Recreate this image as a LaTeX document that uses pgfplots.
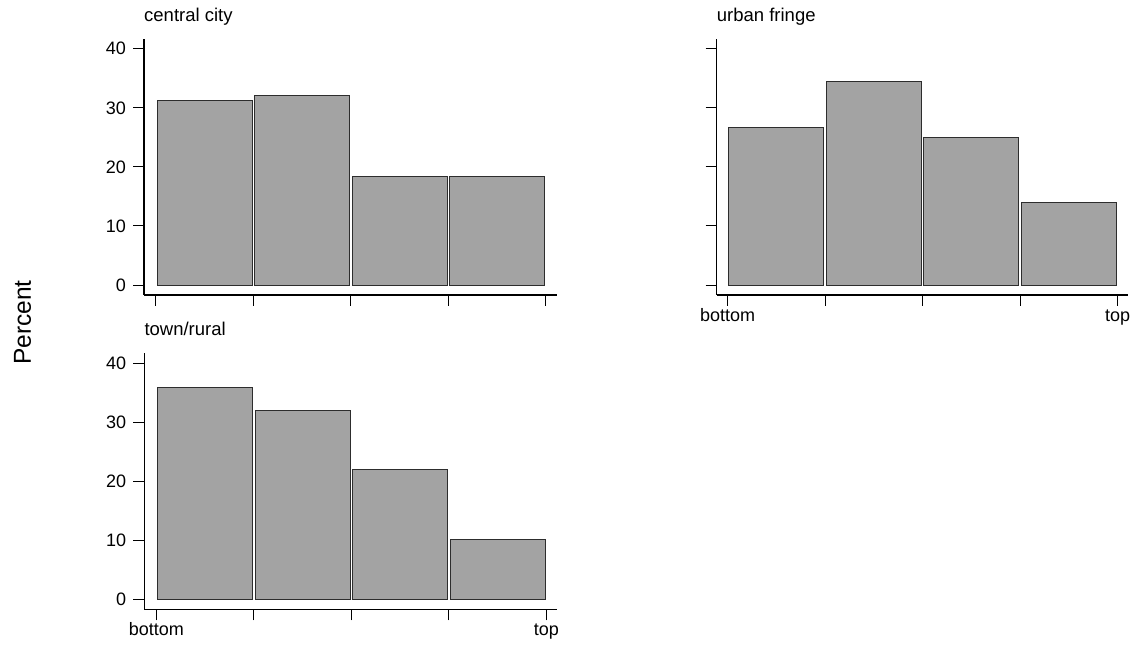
\documentclass[border=0pt]{standalone}
\usepackage{fontspec}
\setmainfont{Liberation Sans}
\usepackage{pgfplots}
\pgfplotsset{compat=1.18}

\definecolor{barfill}{RGB}{163,163,163}
\definecolor{baredge}{RGB}{45,45,45}

\pgfplotsset{
  histpanel/.style={
    scale only axis,
    ybar,
    bar width=0.975,
    axis lines=left,
    axis line style={-, black, line width=1.1pt},
    tick align=outside,
    major tick length=11pt,
    tick style={black, line width=1pt},
    xtick={0,1,2,3,4},
    ytick={0,10,20,30,40},
    ymin=-1.69, ymax=41.66,
    height=256pt,
    /pgf/number format/assume math mode=true,
    tick label style={font=\fontsize{18}{20}\selectfont},
    yticklabel style={inner sep=0pt, xshift=-7pt},
    xticklabel style={inner sep=0pt, anchor=base, yshift=-15pt},
    every axis title shift=0pt,
    title style={at={(rel axis cs:0,1)}, anchor=base west, inner sep=0pt,
      yshift=17.5pt, font=\fontsize{18.5}{20}\selectfont},
  },
  histbars/.style={fill=barfill, draw=baredge, line width=1pt},
}

\begin{document}
\begin{tikzpicture}[x=1pt, y=1pt]
  \path (0,0) rectangle (1135,646);

  % central city
  \begin{axis}[histpanel, at={(144pt,351pt)}, anchor=south west,
      width=413pt, xmin=-0.123, xmax=4.113,
      xticklabels={}, title={central city}]
    \addplot[histbars] coordinates {(0.5,31.3) (1.5,32.1) (2.5,18.3) (3.5,18.3)};
  \end{axis}

  % urban fringe
  \begin{axis}[histpanel, at={(716.7pt,351pt)}, anchor=south west,
      width=411.3pt, xmin=-0.113, xmax=4.106,
      xticklabels={bottom,,,,top}, yticklabels={}, title={urban fringe}]
    \addplot[histbars] coordinates {(0.5,26.6) (1.5,34.5) (2.5,25.0) (3.5,14.0)};
  \end{axis}

  % town/rural
  \begin{axis}[histpanel, at={(144.3pt,36.7pt)}, anchor=south west,
      width=413pt, xmin=-0.123, xmax=4.113,
      xticklabels={bottom,,,,top}, title={town/rural}]
    \addplot[histbars] coordinates {(0.5,35.8) (1.5,32.0) (2.5,22.0) (3.5,10.2)};
  \end{axis}

  \node[rotate=90, font=\fontsize{24.5}{26}\selectfont, inner sep=0pt]
    at (22.5pt,323.5pt) {Percent};
\end{tikzpicture}
\end{document}
